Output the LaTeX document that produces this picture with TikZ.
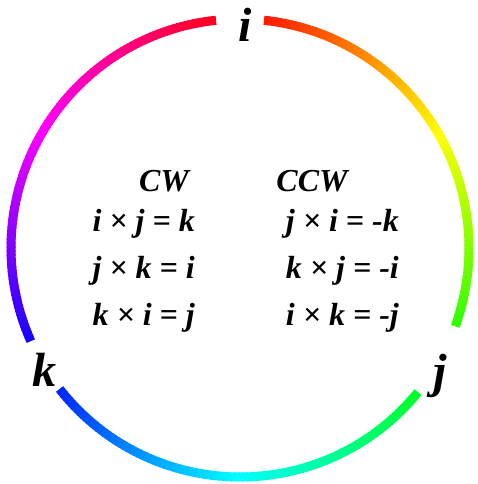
\documentclass[tikz,border=0pt]{standalone}
\usepackage{fontspec}
\setmainfont{Liberation Serif}

\begin{document}
\begin{tikzpicture}[x=1pt, y=1pt,
  rule/.style={font=\fontsize{32}{36}\selectfont\bfseries\itshape, inner sep=0pt},
  axis/.style={font=\fontsize{48}{54}\selectfont\bfseries\itshape, inner sep=0pt}
]
\useasboundingbox (0,0) rectangle (477,484);
\coordinate (o) at (240,236);
% colour ring, hue runs clockwise from i
\foreach \a/\b in {84/-20, -39/-142, -156/-264} {
  \pgfmathtruncatemacro\n{\a-\b}
  \foreach \s in {1,...,\n} {
    \pgfmathsetmacro\t{\a-\s+1}
    \pgfmathsetmacro\e{max(\t-1.4,\b)}
    \pgfmathsetmacro\h{mod(90-\t+720,360)}
    \definecolor{hue}{Hsb}{\h,1,1}
    \draw[hue, line width=9pt] ([shift={(\t:229)}]o) arc (\t:\e:229);
  }
}
\node[axis, anchor=base] (i) at (245,442) {i};
\node[axis, anchor=base] (j) at (440,96) {j};
\node[axis, anchor=base] (k) at (44,97) {k};
% the two columns
\node[rule, anchor=base] (cw) at (164,292) {CW};
\node[rule, anchor=base] (ccw) at (312,292) {CCW};
\node[rule, anchor=base east] (ij) at (195,252) {i × j = k};
\node[rule, anchor=base east] (jk) at ([yshift=-47pt]ij.base east) {j × k = i};
\node[rule, anchor=base east] (ki) at ([yshift=-47pt]jk.base east) {k × i = j};
\node[rule, anchor=base east] (ji) at (399,252) {j × i = -k};
\node[rule, anchor=base east] (kj) at ([yshift=-47pt]ji.base east) {k × j = -i};
\node[rule, anchor=base east] (ik) at ([yshift=-47pt]kj.base east) {i × k = -j};
\end{tikzpicture}
\end{document}
